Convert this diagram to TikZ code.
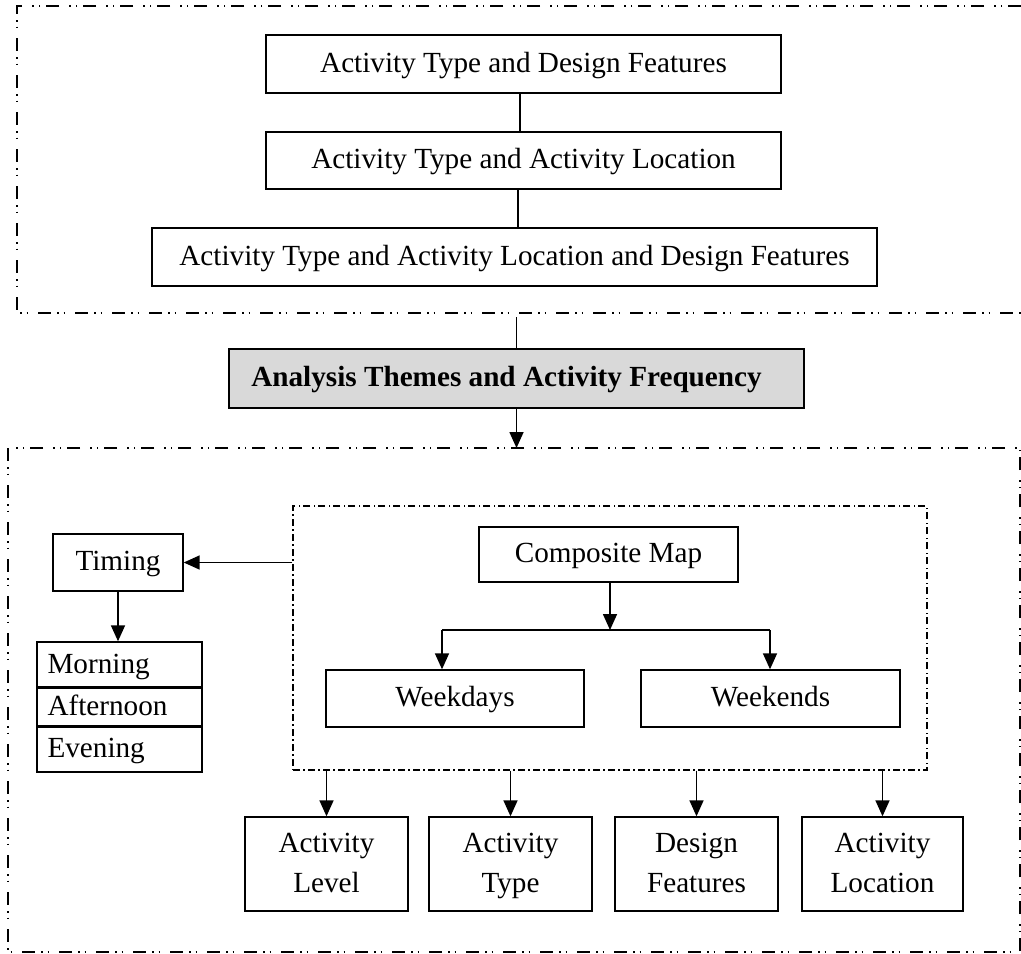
\documentclass[tikz,border=0pt]{standalone}
\usepackage{fontspec}
\setmainfont{Liberation Serif}
\usetikzlibrary{arrows.meta,calc}
\begin{document}
\begin{tikzpicture}[x=0.5pt,y=-0.5pt,
  every node/.style={font=\fontsize{14.6}{20}\selectfont},
  box/.style={draw,line width=0.7pt,inner sep=0pt,align=center},
  graybox/.style={box,fill=black!15,font=\fontsize{14.6}{20}\selectfont\bfseries},
  slot/.style={draw,line width=0.7pt,inner sep=0pt,minimum width=82.5pt,text width=72pt,align=left},
  groupline/.style={line width=0.7pt,dash pattern=on 6.5pt off 3pt on 0.75pt off 2.5pt on 0.75pt off 5pt},
  innerline/.style={draw,line width=0.7pt,dash pattern=on 3.5pt off 1.5pt on 0.75pt off 1.75pt},
  conn/.style={line width=0.7pt},
  arr/.style={line width=0.8pt,-{Triangle[length=8pt,width=7pt]}}]
\useasboundingbox (0,0) rectangle (1021,953);

% top group frame (open on the right)
\coordinate (tr) at (1021,6);
\coordinate (tl) at (17,6);
\coordinate (bl) at (17,313);
\coordinate (br) at (1021,313);
\draw[groupline] (tr) -- (tl) -- (bl) -- (br);

% lower group frame
\draw[groupline] (8,448) rectangle (1020,952);
\coordinate (lowtop) at (516.5,448);
\coordinate (topbot) at (516.5,317);

% top boxes
\node[box,minimum width=257.5pt,minimum height=29pt] (b1) at (523.5,64) {\strut Activity Type and Design Features};
\node[box,minimum width=257.5pt,minimum height=28.5pt] (b2) at (523.5,160.5) {\strut Activity Type and Activity Location};
\node[box,minimum width=362.5pt,minimum height=29pt] (b3) at (514.5,257) {\strut Activity Type and Activity Location and Design Features};
\coordinate (c12a) at (520,93);
\coordinate (c12b) at (520,132);
\coordinate (c23a) at (518,189);
\coordinate (c23b) at (518,228);
\draw[conn] (c12a) -- (c12b);
\draw[conn] (c23a) -- (c23b);

% analysis box
\node[graybox,minimum width=287.5pt,minimum height=29.5pt] (gray) at (516.5,378.5) {\strut\hspace*{-10pt}Analysis Themes and Activity Frequency};
\draw[conn] (gray.north) -- (topbot);
\draw[arr] (gray.south) -- (lowtop);

% inner dashed frame
\node[innerline,minimum width=317pt,minimum height=132pt,inner sep=0pt] (inner) at (610,638) {};

% timing
\node[box,minimum width=65pt,minimum height=28.5pt] (timing) at (118,562.5) {\strut Timing};
\node[slot,minimum height=23pt] (morning) at (119.5,665) {\strut Morning};
\node[slot,minimum height=19pt] (afternoon) at (119.5,707) {\strut Afternoon};
\node[slot,minimum height=23pt] (evening) at (119.5,749) {\strut Evening};
\draw[arr] (inner.west |- timing) -- (timing.east);
\draw[arr] (timing.south) -- (timing.south |- morning.north);

% composite map
\node[box,minimum width=129.5pt,minimum height=27.5pt] (comp) at (608.5,554.5) {\strut Composite Map};
\node[box,minimum width=129pt,minimum height=28.5pt] (wkd) at (455,698.5) {\strut Weekdays};
\node[box,minimum width=129.5pt,minimum height=28.5pt] (wke) at (770.5,698.5) {\strut Weekends};
\coordinate (split) at (610,630);
\coordinate (hl) at (442,630);
\coordinate (hr) at (770,630);
\draw[arr] (comp.south -| split) -- (split);
\draw[conn] (hl) -- (hr);
\draw[arr] (hl) -- (hl |- wkd.north);
\draw[arr] (hr) -- (hr |- wke.north);

% bottom boxes
\node[box,minimum width=81.5pt,minimum height=47pt] (lvl) at (326.5,864) {\strut Activity\\\strut Level};
\node[box,minimum width=81.5pt,minimum height=47pt] (typ) at (510.5,864) {\strut Activity\\\strut Type};
\node[box,minimum width=81.5pt,minimum height=47pt] (des) at (696.5,864) {\strut Design\\\strut Features};
\node[box,minimum width=80.5pt,minimum height=47pt] (loc) at (882.5,864) {\strut Activity\\\strut Location};
\foreach \n in {lvl,typ,des,loc}{
  \draw[arr] (inner.south -| \n.north) -- (\n.north);
}
\end{tikzpicture}
\end{document}
